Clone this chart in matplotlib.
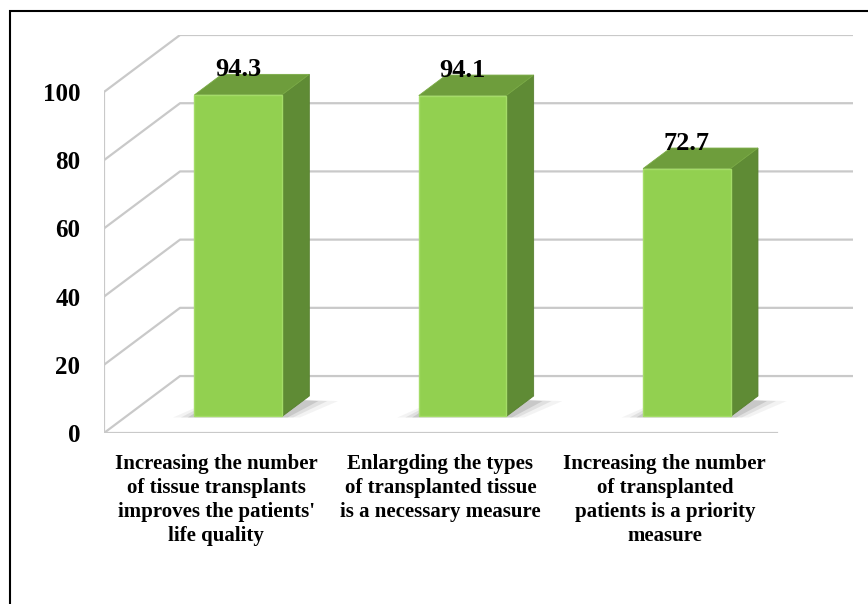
import matplotlib.pyplot as plt
from matplotlib.patches import Polygon, Rectangle

# data
categories = [
    "Increasing the number\nof tissue transplants\nimproves the patients'\nlife quality",
    "Enlargding the types\nof transplanted tissue\nis a necessary measure",
    "Increasing the number\nof transplanted\npatients is a priority\nmeasure",
]
values = [94.3, 94.1, 72.7]
yticks = [0, 20, 40, 60, 80, 100]

# fake 3d look: oblique offset of the back wall (in data units)
DX, DY = 0.339, 16.7
bar_w = 0.39
d_front = 0.29   # depth position of bar front face
d_bar = 0.36     # depth of the bar itself

front_col = '#92d050'
side_col = '#5f8b35'
top_col = '#6e9d3c'
grid_col = '#c9c9c9'

W, H = 868, 604
fig = plt.figure(figsize=(W / 100, H / 100), dpi=100)
ax = fig.add_axes([104 / W, (H - 433) / H, (853 - 104) / W, (433 - 35) / H])
ax.set_xlim(-0.5, 2.5 + DX)
ax.set_ylim(0, 100 + DY)
for s in ax.spines.values():
    s.set_visible(False)

# walls / grid
for v in yticks:
    ax.plot([-0.5, -0.5 + DX, 2.5 + DX], [v, v + DY, v + DY], color=grid_col, lw=1.6, zorder=1)
ax.plot([-0.5, -0.5], [0, 100], color=grid_col, lw=1.6, zorder=1)
ax.plot([-0.5, 2.5], [0, 0], color=grid_col, lw=1.6, zorder=1)

for i, v in enumerate(values):
    x0 = i - bar_w / 2 + d_front * DX
    x1 = x0 + bar_w
    y0 = d_front * DY
    ddx, ddy = d_bar * DX, d_bar * DY
    # soft floor shadow
    for k, a in [(0.08, 0.06), (0.05, 0.1), (0.025, 0.15)]:
        ax.add_patch(Polygon([(x0 - k * 1.2, y0 - 0.3), (x1 + k, y0 - 0.3),
                              (x1 + ddx + k * 1.6, y0 + ddy - 1.5), (x0 + ddx, y0 + ddy)],
                             closed=True, fc='#404040', ec='none', alpha=a, zorder=2))
    # side, top, front
    ax.add_patch(Polygon([(x1, y0), (x1 + ddx, y0 + ddy), (x1 + ddx, y0 + ddy + v), (x1, y0 + v)],
                         closed=True, fc=side_col, ec='#58802f', lw=0.6, zorder=3))
    ax.add_patch(Polygon([(x0, y0 + v), (x1, y0 + v), (x1 + ddx, y0 + v + ddy), (x0 + ddx, y0 + v + ddy)],
                         closed=True, fc=top_col, ec='#7aab45', lw=0.6, zorder=3))
    ax.add_patch(Rectangle((x0, y0), bar_w, v, fc=front_col, ec='#a4dc68', lw=1.0, zorder=4))
    ax.annotate(f'{v:.1f}', ((x0 + x1) / 2, y0 + v), xytext=(0, 13.5), textcoords='offset points',
                ha='center', va='baseline', fontsize=19, fontweight='bold',
                family='Liberation Serif', zorder=6)

ax.set_yticks(yticks)
ax.set_yticklabels([str(t) for t in yticks], fontsize=18, fontweight='bold', family='Liberation Serif')
ax.set_xticks(range(len(categories)))
ax.set_xticklabels(categories, fontsize=15, fontweight='bold', family='Liberation Serif',
                   linespacing=1.28, va='top')
ax.tick_params(axis='y', length=0, pad=17)
ax.tick_params(axis='x', length=0, pad=15)

# outer frame (runs off the right and bottom)
fig.add_artist(Rectangle((10 / W, -0.1), 1.2, (H - 11) / H + 0.1, transform=fig.transFigure,
                         fill=False, ec='black', lw=1.5))

fig.savefig('out.png', dpi=100)
